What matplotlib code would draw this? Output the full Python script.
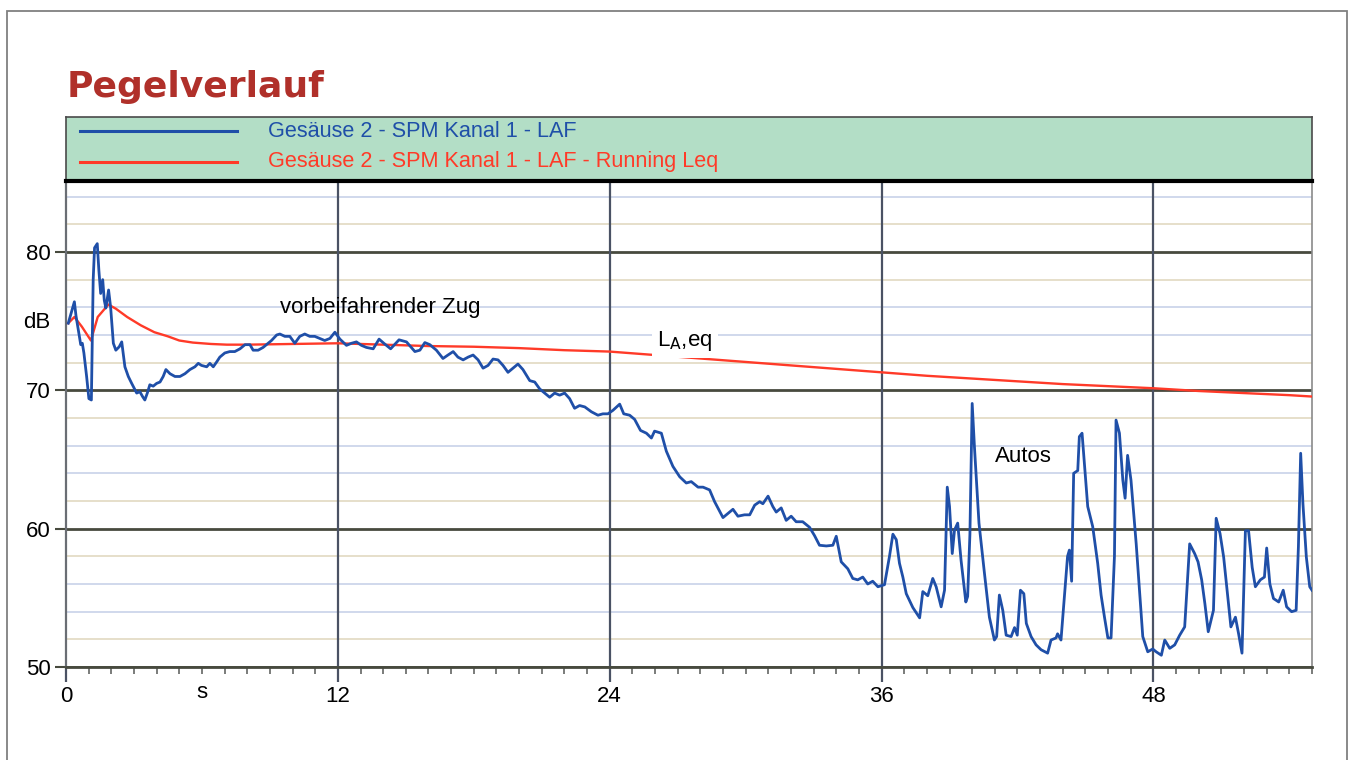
import numpy as np
import matplotlib
matplotlib.use("Agg")
import matplotlib.pyplot as plt
from matplotlib.patches import Rectangle

plt.rcParams["font.family"] = ["Liberation Sans", "DejaVu Sans"]

# LAF level over time (s, dB)
laf_t = [0.10, 0.37, 0.44, 0.54, 0.65, 0.72, 0.79, 0.91, 1.01, 1.12,
         1.20, 1.26, 1.38, 1.45, 1.53, 1.62, 1.69, 1.76, 1.88, 1.97,
         2.09, 2.20, 2.35, 2.46, 2.60, 2.75, 2.90, 3.12, 3.26, 3.38,
         3.48, 3.59, 3.70, 3.85, 4.00, 4.15, 4.29, 4.41, 4.59, 4.81,
         5.03, 5.25, 5.47, 5.69, 5.84, 5.98, 6.21, 6.35, 6.50, 6.65,
         6.79, 7.01, 7.23, 7.45, 7.68, 7.90, 8.12, 8.26, 8.48, 8.70,
         8.85, 9.07, 9.30, 9.44, 9.66, 9.88, 10.10, 10.32, 10.54, 10.76,
         10.98, 11.20, 11.42, 11.65, 11.87, 12.09, 12.38, 12.60, 12.82, 13.04,
         13.26, 13.56, 13.82, 14.03, 14.33, 14.70, 15.03, 15.40, 15.62, 15.84,
         16.06, 16.35, 16.64, 16.86, 17.09, 17.30, 17.53, 17.75, 17.97, 18.19,
         18.41, 18.63, 18.85, 19.07, 19.29, 19.51, 19.73, 19.95, 20.17, 20.47,
         20.69, 20.91, 21.13, 21.35, 21.57, 21.79, 22.01, 22.23, 22.45, 22.67,
         22.90, 23.19, 23.48, 23.70, 23.92, 24.14, 24.44, 24.62, 24.88, 25.10,
         25.36, 25.62, 25.84, 25.98, 26.28, 26.50, 26.79, 27.09, 27.38, 27.60,
         27.90, 28.12, 28.41, 28.63, 29.00, 29.22, 29.44, 29.66, 29.95, 30.18,
         30.40, 30.62, 30.76, 30.99, 31.20, 31.35, 31.57, 31.79, 32.01, 32.23,
         32.52, 32.82, 33.04, 33.26, 33.56, 33.85, 34.00, 34.22, 34.51, 34.73,
         34.95, 35.17, 35.39, 35.61, 35.84, 36.13, 36.35, 36.50, 36.65, 36.79,
         36.94, 37.09, 37.38, 37.68, 37.82, 38.04, 38.26, 38.41, 38.63, 38.78,
         38.90, 39.00, 39.12, 39.22, 39.36, 39.51, 39.72, 39.80, 39.90, 40.00,
         40.10, 40.30, 40.54, 40.76, 40.98, 41.08, 41.20, 41.35, 41.50, 41.72,
         41.87, 41.99, 42.13, 42.28, 42.39, 42.60, 42.82, 43.04, 43.33, 43.48,
         43.70, 43.77, 43.92, 44.07, 44.21, 44.29, 44.39, 44.48, 44.66, 44.73,
         44.85, 45.10, 45.32, 45.54, 45.69, 45.84, 45.99, 46.13, 46.28, 46.35,
         46.50, 46.65, 46.75, 46.86, 47.01, 47.24, 47.53, 47.75, 47.97, 48.12,
         48.35, 48.50, 48.72, 48.94, 49.16, 49.38, 49.60, 49.82, 49.97, 50.13,
         50.27, 50.42, 50.65, 50.77, 50.94, 51.10, 51.27, 51.42, 51.62, 51.76,
         51.91, 52.06, 52.20, 52.36, 52.50, 52.72, 52.90, 53.00, 53.14, 53.30,
         53.53, 53.73, 53.88, 54.10, 54.30, 54.40, 54.50, 54.60, 54.75, 54.90,
         55.00]
laf_db = [74.85, 76.4, 75.4, 74.4, 73.3, 73.4, 72.7, 71.0, 69.4, 69.3,
          78.0, 80.3, 80.6, 78.7, 77.0, 78.0, 76.5, 75.95, 77.25, 76.0,
          73.4, 72.9, 73.15, 73.5, 71.7, 71.0, 70.5, 69.8, 69.9, 69.55,
          69.3, 69.8, 70.4, 70.3, 70.5, 70.6, 71.0, 71.5, 71.2, 71.0,
          71.0, 71.2, 71.5, 71.7, 71.95, 71.8, 71.7, 71.95, 71.7, 72.05,
          72.4, 72.7, 72.8, 72.8, 73.0, 73.3, 73.3, 72.9, 72.9, 73.1,
          73.3, 73.6, 74.0, 74.07, 73.9, 73.9, 73.4, 73.9, 74.07, 73.9,
          73.9, 73.75, 73.6, 73.75, 74.2, 73.7, 73.25, 73.4, 73.5, 73.25,
          73.1, 73.0, 73.7, 73.4, 73.0, 73.65, 73.5, 72.8, 72.9, 73.45,
          73.3, 72.9, 72.3, 72.55, 72.8, 72.4, 72.2, 72.4, 72.55, 72.2,
          71.6, 71.8, 72.26, 72.2, 71.8, 71.3, 71.6, 71.9, 71.5, 70.7,
          70.6, 70.1, 69.8, 69.5, 69.8, 69.65, 69.8, 69.4, 68.7, 68.9,
          68.8, 68.45, 68.2, 68.3, 68.3, 68.55, 69.0, 68.3, 68.2, 67.9,
          67.1, 66.9, 66.55, 67.05, 66.9, 65.6, 64.5, 63.75, 63.3, 63.4,
          63.0, 63.0, 62.8, 61.95, 60.8, 61.1, 61.4, 60.9, 61.0, 61.0,
          61.7, 61.95, 61.8, 62.35, 61.6, 61.2, 61.5, 60.6, 60.9, 60.5,
          60.5, 60.1, 59.5, 58.8, 58.75, 58.8, 59.45, 57.6, 57.1, 56.4,
          56.3, 56.5, 56.0, 56.2, 55.8, 55.95, 58.0, 59.6, 59.2, 57.5,
          56.5, 55.3, 54.3, 53.55, 55.45, 55.15, 56.4, 55.8, 54.35, 55.55,
          63.0, 61.6, 58.2, 59.9, 60.4, 57.7, 54.7, 55.1, 59.6, 69.05,
          65.9, 60.4, 56.8, 53.6, 51.95, 52.2, 55.2, 54.1, 52.3, 52.2,
          52.85, 52.3, 55.55, 55.3, 53.15, 52.2, 51.6, 51.25, 51.0, 51.95,
          52.1, 52.4, 51.95, 55.1, 58.0, 58.45, 56.2, 64.0, 64.2, 66.65,
          66.9, 61.6, 60.15, 57.5, 55.2, 53.6, 52.1, 52.1, 58.0, 67.85,
          66.9, 63.5, 62.2, 65.3, 63.5, 58.9, 52.2, 51.1, 51.3, 51.1,
          50.85, 51.95, 51.35, 51.6, 52.3, 52.9, 58.9, 58.2, 57.6, 56.3,
          54.6, 52.55, 54.1, 60.75, 59.65, 57.95, 55.3, 52.9, 53.6, 52.4,
          51.0, 59.85, 59.85, 57.2, 55.8, 56.3, 56.5, 58.6, 56.0, 54.95,
          54.7, 55.55, 54.35, 54.0, 54.1, 58.7, 65.45, 61.8, 57.95, 55.8,
          55.55]

# running Leq of the same channel
leq_t = [0.10, 0.37, 0.70, 1.10, 1.40, 1.87, 2.20, 2.70, 3.30, 3.90,
         4.50, 5.00, 5.60, 6.40, 7.10, 8.00, 10.0, 12.0, 14.0, 16.0,
         18.0, 20.0, 22.0, 24.0, 26.0, 28.0, 30.0, 32.0, 34.0, 36.0,
         38.0, 40.0, 42.0, 44.0, 46.0, 48.0, 50.0, 52.0, 54.0, 55.0]
leq_db = [74.85, 75.3, 74.6, 73.6, 75.3, 76.2, 75.9, 75.3, 74.7, 74.2,
          73.9, 73.6, 73.45, 73.35, 73.3, 73.3, 73.35, 73.4, 73.3, 73.2,
          73.15, 73.05, 72.9, 72.8, 72.55, 72.3, 72.05, 71.8, 71.55, 71.3,
          71.05, 70.85, 70.65, 70.45, 70.3, 70.15, 69.95, 69.8, 69.65, 69.55]

series_labels = ["Gesäuse 2 - SPM Kanal 1 - LAF",
                 "Gesäuse 2 - SPM Kanal 1 - LAF - Running Leq"]
x_ticks = [0, 12, 24, 36, 48]
y_ticks = [50, 60, 70, 80]

BLUE = "#1f4fa8"
RED = "#ff3a28"
FS = 16

fig = plt.figure(figsize=(13.52, 7.6), dpi=100)
fig.patches.append(Rectangle((7 / 1352, -0.02), 1340 / 1352, 1.02 - 11 / 760,
                             transform=fig.transFigure, fill=False,
                             edgecolor="#808080", linewidth=1.3))

fig.text(67 / 1352, 1 - 97 / 760, "Pegelverlauf", fontsize=26, fontweight="bold",
         color="#b0302a", family="DejaVu Sans", va="baseline")

# legend band above the plot
lax = fig.add_axes([66 / 1352, 1 - 181 / 760, 1246 / 1352, 64 / 760])
lax.set_facecolor("#b3dec6")
lax.set_xlim(0, 1)
lax.set_ylim(0, 1)
lax.set_xticks([])
lax.set_yticks([])
for s in lax.spines.values():
    s.set_color("#4a4a4a")
    s.set_linewidth(1.2)
for y, col, lab in [(0.78, BLUE, series_labels[0]), (0.30, RED, series_labels[1])]:
    lax.plot([0.0112, 0.1372], [y, y], color=col, lw=2.2)
    lax.text(0.162, y, lab, color=col, fontsize=15.6, va="center")

ax = fig.add_axes([66 / 1352, 1 - 667 / 760, 1246 / 1352, 486 / 760])
ax.set_xlim(0, 55)
ax.set_ylim(50, 85.13)

# light 2 dB grid, alternating tints
for y in np.arange(52, 85, 2):
    if y % 10 == 0:
        continue
    col = "#e4dcc6" if y % 10 in (2, 8) else "#cdd5ea"
    ax.axhline(y, color=col, lw=1.3, zorder=1)
for y in y_ticks:
    ax.axhline(y, color="#474a3e", lw=2, zorder=2)
for x in x_ticks[1:]:
    ax.axvline(x, color="#4a5264", lw=1.6, zorder=2)

ax.plot(laf_t, laf_db, color=BLUE, lw=2.0, zorder=4)
ax.plot(leq_t, leq_db, color=RED, lw=1.7, zorder=3)

ax.set_xticks(x_ticks)
ax.set_xticks(np.arange(0, 56, 1), minor=True)
ax.set_yticks(y_ticks)
ax.tick_params(axis="x", which="major", length=11, width=1.6, color="#4a5264",
               labelsize=FS, pad=3)
ax.tick_params(axis="x", which="minor", length=5, width=1.3, color="#6f7270")
ax.tick_params(axis="y", length=8, width=1.5, color="#474a3e", labelsize=FS, pad=3)

ax.spines["top"].set_color("black")
ax.spines["top"].set_linewidth(3)
ax.spines["left"].set_color("#6a6e74")
ax.spines["left"].set_linewidth(1.6)
ax.spines["right"].set_color("#8a8a8a")
ax.spines["right"].set_linewidth(1.2)
ax.spines["bottom"].set_color("#474a3e")
ax.spines["bottom"].set_linewidth(2)

fig.text(37 / 1352, 1 - 322 / 760, "dB", fontsize=FS, ha="center", va="center")
ax.text(6, -0.052, "s", fontsize=FS, ha="center", va="center",
        transform=ax.get_xaxis_transform())

ax.text(9.44, 75.95, "vorbeifahrender Zug", fontsize=FS, va="center", zorder=5)
ax.text(26.1, 73.6, r"L$_\mathrm{A}$,eq", fontsize=FS, va="center", zorder=5,
        bbox=dict(facecolor="white", edgecolor="none", pad=4))
ax.text(41.0, 65.25, "Autos", fontsize=FS, va="center", zorder=5)

fig.savefig("out.png", dpi=100)
